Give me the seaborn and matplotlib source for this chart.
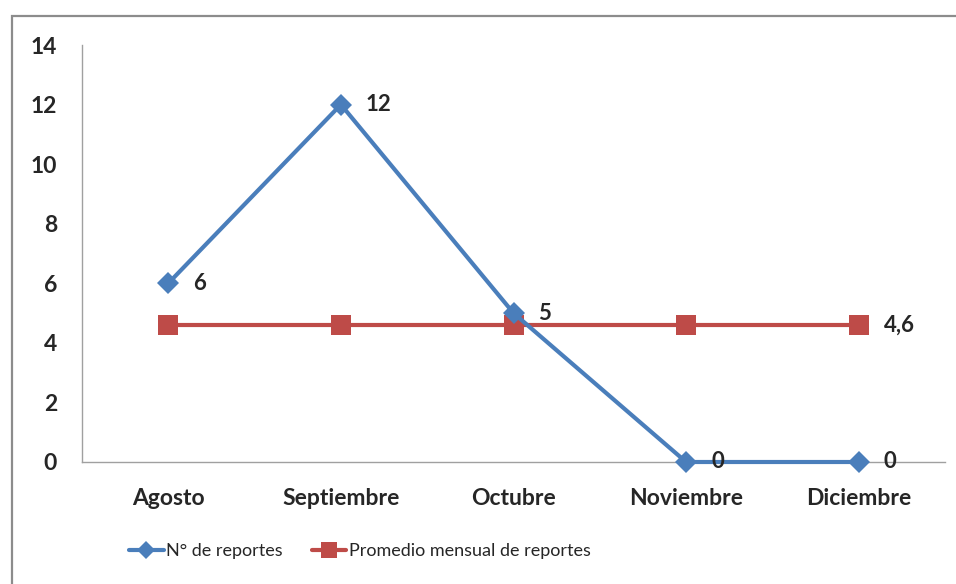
import matplotlib
matplotlib.use("Agg")
import matplotlib.pyplot as plt
import seaborn as sns
import pandas as pd
from matplotlib.patches import Rectangle

# data
meses = ["Agosto", "Septiembre", "Octubre", "Noviembre", "Diciembre"]
reportes = [6, 12, 5, 0, 0]
promedio = [4.6, 4.6, 4.6, 4.6, 4.6]
etiquetas_reportes = ["6", "12", "5", "0", "0"]
etiqueta_promedio = "4,6"
y_ticks = [0, 2, 4, 6, 8, 10, 12, 14]

azul = "#4a7ebb"
rojo = "#be4b48"

df = pd.DataFrame({"mes": meses, "reportes": reportes, "promedio": promedio})

sns.set_theme(style="white")
plt.rcParams["font.family"] = ["Lato", "DejaVu Sans"]

fig = plt.figure(figsize=(9.56, 5.84), dpi=100)
ax = fig.add_axes([82 / 956, 1 - 462 / 584, (945 - 82) / 956, (462 - 45) / 584])

sns.lineplot(data=df, x="mes", y="reportes", sort=False, color=azul, lw=3,
             marker="D", markersize=11, markeredgewidth=0, ax=ax,
             label="N° de reportes", clip_on=False, zorder=3)
sns.lineplot(data=df, x="mes", y="promedio", sort=False, color=rojo, lw=3,
             marker="s", markersize=14, markeredgewidth=0, ax=ax,
             label="Promedio mensual de reportes", clip_on=False, zorder=2)

for i, (v, t) in enumerate(zip(reportes, etiquetas_reportes)):
    ax.annotate(t, (i, v), xytext=(18, 0), textcoords="offset points",
                ha="left", va="center", fontsize=16, fontweight="bold", zorder=5)
ax.annotate(etiqueta_promedio, (len(meses) - 1, promedio[-1]), xytext=(18, 0),
            textcoords="offset points", ha="left", va="center",
            fontsize=16, fontweight="bold", zorder=5)

ax.set_xlim(-0.5, len(meses) - 0.5)
ax.set_ylim(0, 14)
ax.set_yticks(y_ticks)
ax.set_xlabel("")
ax.set_ylabel("")
ax.tick_params(axis="both", length=0, labelsize=16.5)
ax.tick_params(axis="y", pad=18)
ax.tick_params(axis="x", pad=19)
for lbl in ax.get_xticklabels() + ax.get_yticklabels():
    lbl.set_fontweight("bold")

for s in ["top", "right"]:
    ax.spines[s].set_visible(False)
for s in ["left", "bottom"]:
    ax.spines[s].set_color("#a0a0a0")
    ax.spines[s].set_linewidth(1)

handles, labels = ax.get_legend_handles_labels()
leg = ax.legend(handles, labels, loc="center", bbox_to_anchor=(360 / 956, 1 - 551 / 584),
                bbox_transform=fig.transFigure, ncol=2, frameon=False, fontsize=13,
                handlelength=1.9, handletextpad=0.15, columnspacing=1.6, markerscale=0.8)

# outer chart frame
fig.patches.append(Rectangle((12 / 956, -0.05), 1.0, 1 - 16 / 584 + 0.05,
                             transform=fig.transFigure, fill=False,
                             edgecolor="#8c8c8c", lw=1.6, zorder=0))

fig.savefig("out.png", dpi=100)
